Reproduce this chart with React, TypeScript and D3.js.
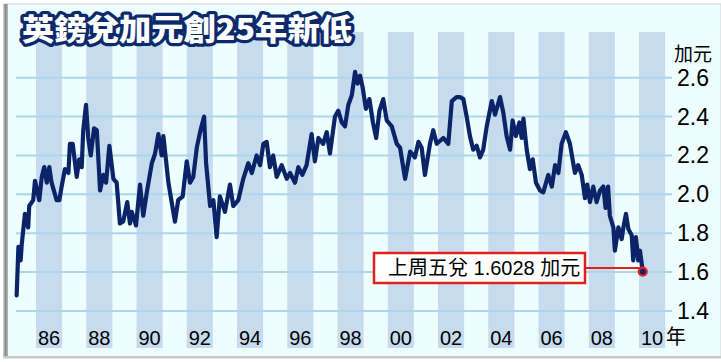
import React from "react";
import * as d3 from "d3";

const years: number[] = [
  1985.23, 1985.30, 1985.39, 1985.43, 1985.56, 1985.69, 1985.73, 1985.89, 1985.96,
  1986.13, 1986.23, 1986.33, 1986.43, 1986.53, 1986.62, 1986.82, 1986.93,
  1987.02, 1987.15, 1987.29, 1987.35, 1987.46, 1987.62, 1987.72, 1987.82, 1987.88, 1987.99,
  1988.08, 1988.18, 1988.31, 1988.42, 1988.55, 1988.68, 1988.79, 1988.92,
  1989.08, 1989.21, 1989.34, 1989.47, 1989.63, 1989.74, 1989.81, 1989.98,
  1990.14, 1990.27, 1990.41, 1990.61, 1990.74, 1990.87,
  1991.00, 1991.07, 1991.27, 1991.40, 1991.53, 1991.66, 1991.84,
  1992.00, 1992.13, 1992.26, 1992.40, 1992.53, 1992.69, 1992.77, 1992.93,
  1993.06, 1993.19, 1993.32, 1993.52, 1993.72, 1993.85,
  1994.05, 1994.25, 1994.45, 1994.59, 1994.78, 1994.92,
  1995.05, 1995.18, 1995.31, 1995.44, 1995.58, 1995.78, 1995.98,
  1996.11, 1996.31, 1996.44, 1996.60, 1996.77, 1996.97,
  1997.10, 1997.24, 1997.43, 1997.57, 1997.70, 1997.90,
  1998.03, 1998.17, 1998.30, 1998.43, 1998.57, 1998.70, 1998.80, 1998.90,
  1999.00, 1999.13, 1999.27, 1999.41, 1999.54, 1999.67, 1999.82, 1999.96,
  2000.16, 2000.36, 2000.49, 2000.69, 2000.89,
  2001.08, 2001.22, 2001.35, 2001.48, 2001.68, 2001.81, 2001.95,
  2002.21, 2002.41, 2002.55, 2002.74, 2002.88,
  2003.01, 2003.14, 2003.27, 2003.40, 2003.54, 2003.67, 2003.80, 2003.94,
  2004.14, 2004.27, 2004.47, 2004.60, 2004.73, 2004.87, 2004.97,
  2005.10, 2005.24, 2005.33, 2005.40, 2005.53, 2005.66, 2005.77, 2005.90,
  2006.06, 2006.19, 2006.39, 2006.53, 2006.66, 2006.79, 2006.92,
  2007.09, 2007.25, 2007.45, 2007.58, 2007.72, 2007.85, 2007.94,
  2008.05, 2008.18, 2008.31, 2008.45, 2008.58, 2008.67, 2008.77, 2008.84, 2008.98,
  2009.04, 2009.18, 2009.31, 2009.38, 2009.48, 2009.58, 2009.71, 2009.77, 2009.88, 2009.97,
  2010.04, 2010.15,
];

const rates: number[] = [
  1.48, 1.73, 1.66, 1.74, 1.90, 1.83, 1.94, 1.97, 2.07,
  1.97, 2.09, 2.14, 2.06, 2.14, 2.06, 1.97, 1.97,
  2.04, 2.13, 2.11, 2.26, 2.26, 2.09, 2.18, 2.14, 2.33, 2.46,
  2.29, 2.20, 2.34, 2.33, 2.02, 2.10, 2.06, 2.25,
  2.08, 2.06, 1.85, 1.86, 1.96, 1.85, 1.91, 1.84,
  2.05, 1.89, 2.01, 2.16, 2.21, 2.31,
  2.20, 2.30, 2.06, 1.96, 1.86, 1.97, 1.99,
  2.17, 2.06, 2.09, 2.24, 2.32, 2.40, 2.16, 1.94,
  1.97, 1.78, 1.99, 1.91, 2.05, 1.94,
  1.97, 2.08, 2.16, 2.11, 2.20, 2.15,
  2.26, 2.27, 2.14, 2.20, 2.09, 2.15, 2.08,
  2.11, 2.06, 2.14, 2.10, 2.15, 2.31,
  2.17, 2.29, 2.26, 2.32, 2.21, 2.40,
  2.43, 2.37, 2.35, 2.46, 2.51, 2.63, 2.57, 2.61,
  2.55, 2.44, 2.49, 2.37, 2.29, 2.43, 2.49, 2.38,
  2.35, 2.26, 2.24, 2.08, 2.22,
  2.19, 2.27, 2.24, 2.10, 2.26, 2.33, 2.26,
  2.29, 2.26, 2.48, 2.50, 2.50,
  2.49, 2.40, 2.30, 2.23, 2.25, 2.19, 2.23, 2.35,
  2.48, 2.41, 2.50, 2.42, 2.30, 2.23, 2.38,
  2.30, 2.37, 2.29, 2.39, 2.23, 2.13, 2.18, 2.06,
  2.02, 2.01, 2.10, 2.04, 2.15, 2.11, 2.26,
  2.32, 2.26, 2.11, 2.15, 2.10, 1.98, 2.05,
  1.96, 2.04, 1.96, 2.02, 2.04, 1.93, 2.04, 1.89, 1.83,
  1.71, 1.83, 1.77, 1.83, 1.90, 1.82, 1.79, 1.66, 1.78, 1.66,
  1.71, 1.6028,
];

const stripeYears: number[] = [1986, 1988, 1990, 1992, 1994, 1996, 1998, 2000, 2002, 2004, 2006, 2008, 2010];
const xTickLabels: string[] = ["86", "88", "90", "92", "94", "96", "98", "00", "02", "04", "06", "08", "10"];
const yTicks: number[] = [1.4, 1.6, 1.8, 2.0, 2.2, 2.4, 2.6];

const title = "英鎊兌加元創25年新低";
const unitLabel = "加元";
const yearUnit = "年";
const lastLabel = "上周五兌 1.6028 加元";

const W = 721;
const H = 362;

export default function App() {
  const x = d3.scaleLinear().domain([1986, 2010]).range([36, 639]);
  const y = d3.scaleLinear().domain([1.4, 2.6]).range([311, 77.7]);
  const pts = years.map((yr, i) => [yr, rates[i]] as [number, number]);
  const line = d3
    .line<[number, number]>()
    .x((d) => x(d[0]))
    .y((d) => y(d[1]));
  const last = pts[pts.length - 1];
  const lx = x(last[0]);
  const ly = y(last[1]);
  const latin = "'Liberation Sans', Arial, 'Noto Sans CJK TC', sans-serif";
  const navy = "#0b2467";

  return (
    <svg
      width={W}
      height={H}
      viewBox={`0 0 ${W} ${H}`}
      style={{ position: "absolute", left: 0, top: 0 }}
    >
      <defs>
        <linearGradient id="leftEdge" x1="0" x2="1" y1="0" y2="0">
          <stop offset="0" stopColor="#d8d8d8" />
          <stop offset="0.5" stopColor="#8a8a8a" />
          <stop offset="1" stopColor="#b8b8b8" />
        </linearGradient>
      </defs>
      <rect x={0} y={0} width={W} height={H} fill="#ffffff" />
      {/* frame */}
      <rect x={4} y={4} width={W - 4} height={354} fill="#eefdfd" stroke="#d0d0d0" strokeWidth={1} />
      <rect x={3} y={4} width={5} height={354} fill="url(#leftEdge)" />
      <rect x={4} y={356} width={W - 4} height={2} fill="#c8c8c8" />
      {/* stripes */}
      {stripeYears.map((yr) => (
        <rect
          key={yr}
          x={x(yr)}
          y={32}
          width={x(yr + 1) - x(yr) + 1}
          height={348 - 32}
          fill="#c6dcee"
        />
      ))}
      {/* grid */}
      {yTicks.map((t) => (
        <line key={t} x1={16} x2={672} y1={y(t)} y2={y(t)} stroke="#acd6ec" strokeWidth={2} />
      ))}
      {/* y labels */}
      {yTicks.map((t) => (
        <text
          key={"l" + t}
          x={709}
          y={y(t) + 8}
          textAnchor="end"
          fontFamily={latin}
          fontSize={23}
          fill="#000"
        >
          {t.toFixed(1)}
        </text>
      ))}
      <text x={693} y={61} textAnchor="middle" fontFamily="'Noto Sans CJK TC', sans-serif" fontSize={19} fill="#000">
        {unitLabel}
      </text>
      {/* x labels */}
      {stripeYears.map((yr, i) => (
        <text
          key={"x" + yr}
          x={(x(yr) + x(yr + 1)) / 2 + 0.5}
          y={345}
          textAnchor="middle"
          fontFamily={latin}
          fontSize={20}
          fill="#000"
        >
          {xTickLabels[i]}
        </text>
      ))}
      <text x={666} y={344} fontFamily="'Noto Sans CJK TC', sans-serif" fontSize={20} fill="#000">
        {yearUnit}
      </text>
      {/* line */}
      <path
        d={line(pts) || ""}
        fill="none"
        stroke={navy}
        strokeWidth={4.2}
        strokeLinejoin="round"
        strokeLinecap="round"
      />
      {/* annotation */}
      <line x1={585} x2={lx} y1={268} y2={268} stroke="#e3211c" strokeWidth={2} />
      <rect x={374} y={253} width={211} height={30} fill="#ffffff" stroke="#e3211c" strokeWidth={2.5} />
      <text x={388} y={275} fontFamily={latin} fontSize={20} fill="#000">
        {lastLabel}
      </text>
      <circle cx={lx} cy={ly} r={4} fill={navy} stroke="#e3211c" strokeWidth={2.2} />
      {/* title */}
      <text
        x={22}
        y={40}
        fontFamily="'Noto Sans CJK TC', sans-serif"
        fontWeight={900}
        fontSize={30}
        fill="#ffffff"
        stroke="#0c2a6b"
        strokeWidth={6.5}
        strokeLinejoin="round"
        paintOrder="stroke"
        textLength={330}
        lengthAdjust="spacingAndGlyphs"
      >
        {title}
      </text>
    </svg>
  );
}
